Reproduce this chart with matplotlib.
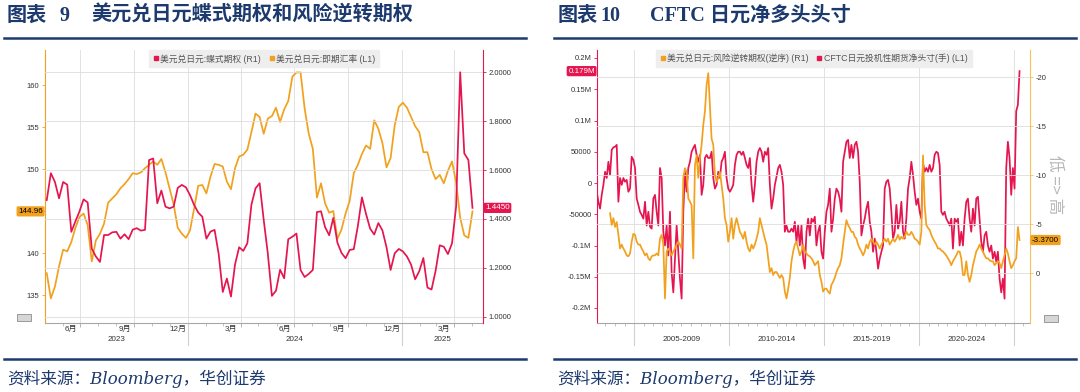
import matplotlib
matplotlib.use("Agg")
import matplotlib.pyplot as plt
import matplotlib.dates as mdates
import matplotlib.ticker as mticker
from matplotlib.lines import Line2D
from matplotlib.patches import Rectangle
import pandas as pd

plt.rcParams["font.family"] = ["Liberation Sans", "Noto Sans CJK SC"]
plt.rcParams["axes.unicode_minus"] = False

PINK = "#e5154f"
ORANGE = "#f1a11d"
NAVY = "#1d3a6e"
GRID = "#dddddd"
AXIS_GRAY = "#a8a8a8"
TEXT = "#333333"
TITLE_FONT = ["Liberation Serif", "Noto Sans CJK SC"]
SOURCE_FONT = ["DejaVu Serif", "Noto Sans CJK SC"]

# ---- 图表9  周度数据, 2023-05-05 起
week_start = "2023-05-05"
usdjpy_spot = [
    137.6, 134.6, 136.0, 138.4, 140.4, 140.2, 141.3, 143.0, 144.3, 144.7,
    143.3, 139.0, 141.5, 142.3, 143.5, 146.0, 146.5, 147.0, 147.7, 148.2,
    148.8, 149.5, 149.4, 149.6, 150.1, 150.5, 150.9, 150.5, 151.2, 149.6,
    147.7, 145.8, 143.0, 142.3, 141.8, 142.7, 145.3, 148.0, 148.1, 147.1,
    149.1, 150.6, 150.5, 150.3, 148.5, 147.6, 150.1, 151.5, 151.7, 152.3,
    154.4, 156.6, 156.2, 154.2, 156.0, 156.3, 157.3, 155.6, 157.1, 158.1,
    161.0, 161.5, 161.5, 157.2, 154.2, 152.4, 146.6, 148.3, 145.9, 144.8,
    145.0, 141.7, 142.8, 144.7, 146.2, 149.5, 150.5, 151.8, 152.8, 152.4,
    155.8, 154.8, 153.1, 150.2, 151.3, 155.2, 157.4, 157.9, 157.3, 156.2,
    155.1, 154.4, 152.0, 152.0, 150.0, 148.8, 149.3, 148.3, 149.8, 150.9,
    148.4, 144.2, 142.1, 141.8, 144.96,
]
usdjpy_fly = [
    1.477, 1.587, 1.551, 1.484, 1.551, 1.540, 1.347, 1.390, 1.431, 1.480,
    1.467, 1.278, 1.246, 1.224, 1.334, 1.334, 1.345, 1.347, 1.319, 1.337,
    1.317, 1.356, 1.362, 1.352, 1.355, 1.641, 1.647, 1.464, 1.516, 1.450,
    1.443, 1.450, 1.527, 1.539, 1.529, 1.497, 1.457, 1.426, 1.409, 1.319,
    1.348, 1.355, 1.256, 1.101, 1.156, 1.082, 1.214, 1.284, 1.269, 1.300,
    1.458, 1.525, 1.546, 1.396, 1.259, 1.085, 1.106, 1.192, 1.157, 1.317,
    1.327, 1.340, 1.191, 1.162, 1.175, 1.191, 1.428, 1.431, 1.366, 1.333,
    1.404, 1.303, 1.261, 1.239, 1.273, 1.276, 1.371, 1.488, 1.420, 1.360,
    1.336, 1.383, 1.353, 1.284, 1.191, 1.259, 1.277, 1.267, 1.246, 1.213,
    1.153, 1.186, 1.240, 1.119, 1.111, 1.188, 1.292, 1.286, 1.256, 1.300,
    1.450, 2.000, 1.668, 1.641, 1.445,
]
spot_ticks = [135, 140, 145, 150, 155, 160]
spot_tick_labels = ["135", "140", "", "150", "155", "160"]  # 145 被最新值标签遮住
month_labels = ["6月", "9月", "12月", "3月", "6月", "9月", "12月", "3月"]
month_label_dates = ["2023-06-15", "2023-09-15", "2023-12-15", "2024-03-15",
                     "2024-06-15", "2024-09-15", "2024-12-15", "2025-03-15"]
year_labels = ["2023", "2024", "2025"]
year_label_dates = ["2023-09-01", "2024-07-01", "2025-03-11"]

# ---- 图表10  约每32天取一个点, 2002-12-13 起
cftc_start = "2002-12-13"
cftc_net_k = [  # 千手
    2, -14, -30, -41, -19, -3, 18, 8, 34, 13, 53, 57, 58, 61, -30, 8, -3, 8, 2, 5,
    -14, -9, 42, 37, 24, -25, -35, -46, -51, -57, -30, -68, -46, -70, -73, -25, -19,
    -46, -68, 24, 8, -78, -100, -68, -116, -46, -143, -175, -121, -68, -110, -153,
    -185, -46, 18, -14, 24, 34, 50, 56, 61, 45, 34,
    45, -19, -3, 40, 45, 40, 40, 50, 8, -9, -3, 18, 8, 34, 40, 50, 8, -9, -14, -9,
    -3, 29, 45, 50, 50, 45, 50, 40, 29, 24, 40, -3, -30, -3, 34, 50, 56, 50, 34, 50,
    45, 56, -3, -41, -25, -3, 10, 24, 29, 18, -3, -78, -68, -78, -78, -73, -78, -62,
    -94, -68, -100, -68, -121,
    -137, -78, -57, -84, -57, -62, -54, -100, -78, -68, -110, -121, -78, -46, -35,
    -9, -78, -57, -25, -9, -14, -25, -46, 34, 50, 66, 69, 40, 61, 40, 61, 66, 50, 2,
    -84, -68, -57, -41, -30, -62, -78, -110, -89, -110, -137, -121, -110, -100, -9,
    2, 5, -9, -46, -89, -78, -35, -73, -62, -30, -78, -89, -57, -9,
    8, 34, 13, -14, -35, -25, -46, -57, 32, 18, 24, 18, 29, 18, 24, 45, 50, 48, 29,
    -46, -51, -46, -57, -62, -68, -57, -105, -57, -62, -57, -100, -78, -100, -57,
    -30, -25, -57, -78, -41, -68, -25, -22, -57, -94, -110, -84, -78, -100, -110,
    -100, -121, -110, -126, -110, -153, -175, -153, -185, 24, 66, 40, -19, 24, -9,
    115, 125, 179,
]
usdjpy_rr = [
    -6.1, -4.9, -5.6, -4.7, -5.2, -3.9, -2.5, -2.9, -2.5, -2.2, -1.8, -1.7, -2.0,
    -3.2, -4.0, -3.9, -3.2, -2.9, -2.9, -2.5, -2.2, -1.8, -2.0, -1.5, -1.3, -1.7,
    -1.8, -1.8, -2.0, -1.8, -3.5, -3.9, -2.9, 2.6, -2.2, -2.5, -2.2, -1.8, -2.2,
    -2.5, -2.9, -3.2, -2.9, -2.5, -9.7, -10.7, -10.3, -7.6, -7.3, -6.9, -1.5,
    -11.0, -12.0, -9.7,
    -11.7, -13.1, -15.1, -16.5, -19.2, -20.4, -17.1, -13.7, -13.1, -10.0, -9.3,
    -9.7, -10.3, -9.0, -7.6, -5.6, -4.9, -3.2, -4.2, -5.6, -3.5, -4.9, -5.6, -4.9,
    -4.2, -3.9, -3.5, -4.2, -3.2, -2.5, -2.2, -2.9, -2.5, -2.9, -3.5, -4.2, -5.6,
    -4.9, -4.2, -3.5, -2.9, -1.5, -0.1, -0.5, 0.2, -0.1, -0.1, 0.2, 0.5, 0.2, 0.5,
    1.9, 2.6, 1.6, 0.5, -1.2, -2.2, -2.9, -3.2, -2.5, -1.8, -2.2, -2.9,
    -2.2, -2.0, -1.8, -1.7, -1.5, -1.2, -0.8, -1.0, -1.2, 0.2, 0.9, 1.9, 1.6, 1.6,
    1.9, 2.1, 1.2, 0.9, 0.5, -0.1, -0.5, -0.8, -1.5, -2.9, -4.2, -5.4, -4.9, -4.6,
    -4.2, -4.2, -3.7, -3.5, -2.9, -2.5, -2.2, -1.8, -2.2, -2.9, -2.5, -3.2, -3.5,
    -3.2, -2.9, -3.2, -2.9, -2.5, -2.9, -3.2, -3.5, -3.2, -3.5, -2.9, -3.2, -3.5,
    -3.2, -3.5, -3.9, -3.4, -3.7, -3.5, -3.7, -4.2, -3.9,
    -3.9, -4.2, -3.9, -3.5, -3.4, -3.2, -2.9, -4.2, -12.0, -6.9, -4.9, -4.6, -4.4,
    -3.9, -3.5, -3.2, -2.9, -2.5, -2.5, -2.3, -2.2, -2.0, -1.8, -1.5, -1.2, -0.8,
    -1.2, -1.5, -1.8, -2.2, -2.2, -1.5, 0.2, 0.2, -1.2, 0.2, 0.9, 0.2, -0.8, -1.5,
    -2.2, -2.5, -2.9, -2.5, -2.2, -1.8, -1.5, -1.5, -1.3, -1.2, -1.2, -0.8, -1.0,
    -1.2, -1.0, -0.5, -1.2, -1.8, -2.5, -2.0, -1.2, -0.5, -0.8, -1.2, -1.5, -4.7,
    -3.37,
]
cftc_ticks = [-200, -150, -100, -50, 0, 50, 100, 150, 200]
cftc_tick_labels = ["-0.2M", "-0.15M", "-0.1M", "-50000", "0", "50000", "0.1M", "0.15M", "0.2M"]
period_labels = ["2005-2009", "2010-2014", "2015-2019", "2020-2024"]
period_centers = ["2007-07-02", "2012-07-02", "2017-07-02", "2022-07-02"]

W, H = 1080, 392


def fx(px):
    return px / W


def fy(py):
    return 1 - py / H


def dnum(s):
    return mdates.date2num(pd.Timestamp(s))


fig = plt.figure(figsize=(W / 100, H / 100), dpi=100)
fig.patch.set_facecolor("white")


def header_footer(x0, x1, num, num_x, title, title_x):
    fig.text(fx(x0 + 3.5), fy(16), "图表", fontsize=14.5, fontweight="bold", color=NAVY,
             family=TITLE_FONT, va="center")
    fig.text(fx(num_x), fy(16), num, fontsize=14.5, fontweight="bold", color=NAVY,
             family=TITLE_FONT, va="center")
    fig.text(fx(title_x), fy(16), title, fontsize=14.5, fontweight="bold", color=NAVY,
             family=TITLE_FONT, va="center")
    for yy in (38, 358.5):
        fig.add_artist(Line2D([fx(x0), fx(x1)], [fy(yy), fy(yy)], color=NAVY, lw=1.8))
    fig.text(fx(x0 + 3.5), fy(379), "资料来源：Bloomberg，华创证券", fontsize=12,
             style="italic", color=NAVY, family=SOURCE_FONT, va="center")


def base_style(ax, axr, left_color, right_color):
    ax.spines["top"].set_visible(False)
    ax.spines["right"].set_visible(False)
    ax.spines["left"].set_color(left_color)
    ax.spines["bottom"].set_color(AXIS_GRAY)
    for s in ("top", "left", "bottom"):
        axr.spines[s].set_visible(False)
    axr.spines["right"].set_color(right_color)
    ax.tick_params(axis="y", length=2.5, width=0.6, pad=1.5, labelsize=5.5,
                   colors=left_color, labelcolor=TEXT)
    axr.tick_params(axis="y", length=2.5, width=0.6, pad=1.5, labelsize=5.5,
                    colors=right_color, labelcolor=TEXT)
    ax.tick_params(axis="x", which="major", length=3, width=0.6, color=AXIS_GRAY,
                   labelbottom=False)
    ax.tick_params(axis="x", which="minor", length=1.8, width=0.5, color=AXIS_GRAY)
    ax.xaxis.grid(True, color=GRID, lw=0.6)
    axr.yaxis.grid(True, color=GRID, lw=0.6)
    ax.set_axisbelow(True)


def add_legend(ax, labels, colors):
    handles = [Line2D([], [], ls="none", marker="s", markersize=3.2, color=c) for c in colors]
    leg = ax.legend(handles, labels, loc="upper center", bbox_to_anchor=(0.5, 1.0), ncol=2,
                    fontsize=6.3, frameon=True, fancybox=False, facecolor="#eeeeee",
                    edgecolor="#eeeeee", framealpha=1, borderpad=0.45, handlelength=0.7,
                    handletextpad=0.15, columnspacing=0.9, borderaxespad=0)
    for t in leg.get_texts():
        t.set_color("#555555")


def badge(ax, side, y, text, fc, tc):
    left = side == "left"
    ax.annotate(text, xy=(0 if left else 1, y), xycoords=ax.get_yaxis_transform(),
                xytext=(-1.5 if left else 1.5, 0), textcoords="offset points",
                ha="right" if left else "left", va="center", fontsize=5.8, color=tc,
                bbox=dict(boxstyle="round,pad=0.2,rounding_size=0.2", fc=fc, ec="none"),
                annotation_clip=False, zorder=10)


def separators(ax, dates):
    for d in dates:
        ax.add_line(Line2D([dnum(d), dnum(d)], [0, -0.08], transform=ax.get_xaxis_transform(),
                           color="#d0d0d0", lw=0.8, clip_on=False))


def icon(px, py):
    fig.add_artist(Rectangle((fx(px), fy(py + 7)), 14 / W, 7 / H, fc="#d6d6d6",
                             ec="#8c8c8c", lw=0.6))


# ================= 图表9 =================
header_footer(3.5, 526, "9", 60, "美元兑日元蝶式期权和风险逆转期权", 91)

week_dates = pd.date_range(week_start, periods=len(usdjpy_spot), freq="7D")

ax1 = fig.add_axes([fx(45), fy(323), (483 - 45) / W, (323 - 50) / H])
ax1r = ax1.twinx()
ax1.plot(week_dates, usdjpy_spot, color=ORANGE, lw=1.25)
ax1r.plot(week_dates, usdjpy_fly, color=PINK, lw=1.25)

ax1.set_xlim(pd.Timestamp("2023-05-02"), pd.Timestamp("2025-05-20"))
ax1.set_ylim(131.67, 164.17)
ax1r.set_ylim(0.974, 2.091)
ax1.set_yticks(spot_ticks)
ax1.set_yticklabels(spot_tick_labels)
ax1r.set_yticks([1.0, 1.2, 1.4, 1.6, 1.8, 2.0])
ax1r.yaxis.set_major_formatter(mticker.FormatStrFormatter("%.4f"))
ax1.xaxis.set_major_locator(mdates.MonthLocator(bymonth=[1, 4, 7, 10]))
ax1.xaxis.set_minor_locator(mdates.MonthLocator())
base_style(ax1, ax1r, ORANGE, PINK)

xt = ax1.get_xaxis_transform()
for lab, d in zip(month_labels, month_label_dates):
    ax1.text(dnum(d), -0.023, lab, transform=xt, ha="center", va="center", fontsize=5.8,
             color=TEXT)
for lab, d in zip(year_labels, year_label_dates):
    ax1.text(dnum(d), -0.062, lab, transform=xt, ha="center", va="center", fontsize=5.8,
             color=TEXT)
separators(ax1, ["2024-01-01", "2025-01-01"])

add_legend(ax1r, ["美元兑日元:蝶式期权 (R1)", "美元兑日元:即期汇率 (L1)"], [PINK, ORANGE])
badge(ax1, "left", usdjpy_spot[-1], f"{usdjpy_spot[-1]:.2f}", ORANGE, "black")
badge(ax1r, "right", usdjpy_fly[-1], f"{usdjpy_fly[-1]:.4f}", PINK, "white")
icon(17, 314)

# ================= 图表10 =================
header_footer(554, 1076, "10", 600, "CFTC 日元净多头头寸", 650)

cftc_dates = pd.date_range(cftc_start, periods=len(cftc_net_k), freq="32D")
rr_dates = cftc_dates[len(cftc_net_k) - len(usdjpy_rr):]

ax2 = fig.add_axes([fx(597), fy(323), (1030 - 597) / W, (323 - 50) / H])
ax2r = ax2.twinx()
ax2.plot(cftc_dates, cftc_net_k, color=PINK, lw=1.25)
ax2r.plot(rr_dates, usdjpy_rr, color=ORANGE, lw=1.25)

ax2.set_xlim(pd.Timestamp("2003-01-19"), pd.Timestamp("2025-11-03"))
ax2.set_ylim(-224, 212.8)
ax2r.set_ylim(5.1, -22.76)
ax2.set_yticks(cftc_ticks)
ax2.set_yticklabels(cftc_tick_labels)
ax2r.set_yticks([-20, -15, -10, -5, 0])
ax2r.set_yticklabels(["-20", "-15", "-10", "-5", "0"])
ax2.xaxis.set_major_locator(mdates.YearLocator(5))
ax2.xaxis.set_minor_locator(mdates.MonthLocator(bymonth=[1, 7]))
base_style(ax2, ax2r, PINK, "#f5c25a")

xt2 = ax2.get_xaxis_transform()
for lab, d in zip(period_labels, period_centers):
    ax2.text(dnum(d), -0.062, lab, transform=xt2, ha="center", va="center", fontsize=5.8,
             color=TEXT)
separators(ax2, ["2005-01-01", "2010-01-01", "2015-01-01", "2020-01-01", "2025-01-01"])

add_legend(ax2r, ["美元兑日元:风险逆转期权(逆序) (R1)", "CFTC日元投机性期货净头寸(手) (L1)"],
           [ORANGE, PINK])
badge(ax2, "left", cftc_net_k[-1], f"{cftc_net_k[-1] / 1000:.3f}M", PINK, "white")
badge(ax2r, "right", usdjpy_rr[-1], f"{usdjpy_rr[-1]:.4f}", ORANGE, "black")
fig.text(fx(1055), fy(185), "低 => 高", rotation=-90, fontsize=12, color="#b8b8b8",
         family=["Noto Sans CJK SC", "DejaVu Sans"], ha="center", va="center")
icon(1044, 315)

fig.savefig("out.png", dpi=100)
plt.close(fig)
